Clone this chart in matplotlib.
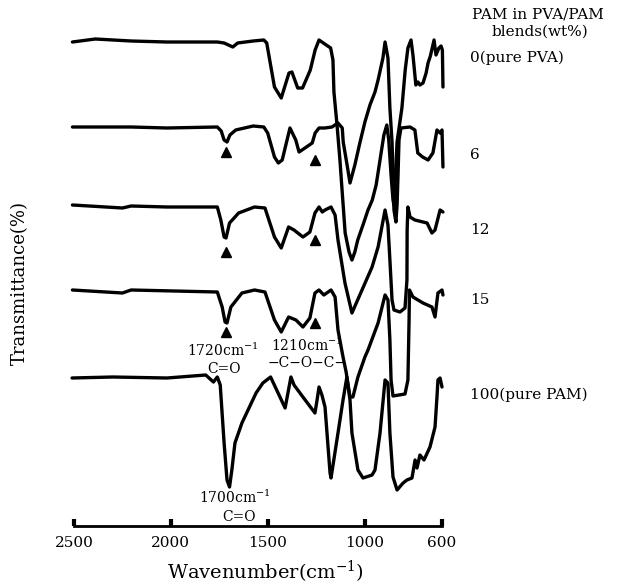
import matplotlib
matplotlib.use("Agg")
import matplotlib.pyplot as plt

plt.rcParams["font.family"] = ["DejaVu Serif"]
plt.rcParams["mathtext.fontset"] = "dejavuserif"

# FTIR spectra, transmittance relative to each curve's baseline (a.u.)
pva_wn = [2508, 2390, 2205, 2020, 1760, 1725, 1680, 1655, 1575, 1520, 1505, 1465, 1430,
          1390, 1375, 1345, 1320, 1280, 1255, 1235, 1205, 1175, 1163, 1158, 1142, 1127,
          1116, 1100, 1080, 1065, 1050, 1035, 1008, 982, 960, 940, 920, 900, 885, 875,
          863, 853, 848, 832, 807, 790, 776, 760, 750, 735, 724, 714, 698, 682, 672, 660,
          641, 631, 616, 605, 598, 595]
pva_t = [0, 3, 1, 0, 0, -1, -5, -1, 1, 2, -1, -45, -56,
         -31, -30, -46, -46, -28, -8, 2, -2, -6, -18, -50, -83, -118,
         -148, -191, -210, -218, -210, -198, -183, -168, -158, -143, -118, -93, -83, -98,
         -133, -158, -163, -100, -66, -28, -6, 2, -13, -43, -40, -43, -41, -31, -21, -14,
         2, -13, -6, -4, -8, -45]

pam6_wn = [2508, 2205, 2020, 1760, 1740, 1725, 1710, 1695, 1665, 1575, 1520, 1500, 1465,
           1445, 1425, 1385, 1355, 1338, 1300, 1270, 1255, 1235, 1205, 1168, 1137, 1115,
           1110, 1090, 1075, 1050, 1023, 998, 972, 946, 930, 905, 894, 879, 869, 858, 853,
           848, 838, 832, 827, 822, 812, 765, 740, 725, 700, 672, 647, 626, 610, 600, 595]
pam6_t = [0, 0, -1, 0, -4, -13, -15, -8, -3, 1, 0, -6, -30,
          -36, -33, -1, -13, -25, -20, -16, -6, -1, -1, 0, 4, -1,
          -15, -38, -56, -38, -15, 5, 22, 35, 47, 69, 85, 69, 19, -15, -48,
          -83, -95, -78, -48, -13, -1, 0, -3, -26, -30, -33, -26, -3, -6, -3, -40]

pam12_wn = [2508, 2250, 2205, 2020, 1760, 1742, 1725, 1715, 1697, 1650, 1568, 1514, 1465,
            1430, 1392, 1364, 1318, 1282, 1256, 1235, 1218, 1204, 1173, 1152, 1137, 1101,
            1065, 1013, 961, 930, 894, 879, 869, 858, 848, 817, 791, 781, 780, 776, 765,
            740, 677, 652, 636, 610, 595]
pam12_t = [2, -1, 1, 0, 0, -13, -30, -31, -16, -6, 0, -1, -30,
           -41, -20, -23, -30, -25, -6, 0, -5, -3, 0, -8, -33, -76,
           -106, -83, -60, -40, -3, -18, -53, -93, -103, -105, -101, -73, -23, 0, -10,
           -13, -16, -26, -23, -3, -5]

pam15_wn = [2508, 2250, 2205, 1760, 1735, 1720, 1710, 1690, 1633, 1568, 1514, 1465, 1430,
            1392, 1354, 1318, 1282, 1256, 1235, 1210, 1173, 1152, 1137, 1111, 1095, 1085,
            1075, 1060, 1034, 998, 982, 930, 894, 879, 869, 863, 853, 791, 776, 770, 768,
            750, 698, 652, 636, 621, 600, 595]
pam15_t = [0, -3, 0, -2, -17, -32, -33, -17, -3, 0, -2, -30, -42,
           -27, -30, -37, -28, -3, 0, -5, 0, -7, -40, -67, -82, -95,
           -107, -107, -87, -67, -60, -33, -5, -10, -50, -90, -106, -104, -90, -30, 0,
           -7, -13, -17, -27, -3, 0, -5]

pam100_wn = [2510, 2300, 2020, 1820, 1780, 1760, 1745, 1725, 1710, 1697, 1685, 1669, 1633,
             1560, 1525, 1485, 1410, 1380, 1364, 1318, 1256, 1245, 1235, 1220, 1204, 1178,
             1173, 1137, 1111, 1091, 1075, 1065, 1034, 1008, 961, 946, 920, 894, 879, 869,
             853, 832, 801, 781, 755, 739, 729, 714, 693, 662, 636, 626, 621, 610, 600]
pam100_t = [0, 1, 0, 3, -4, 1, -7, -65, -102, -109, -92, -65, -45,
            -15, -5, 1, -30, 1, -7, -19, -35, -22, -9, -17, -29, -95,
            -100, -55, -22, 1, -22, -55, -92, -100, -97, -92, -55, -2, -5, -55,
            -99, -112, -105, -102, -100, -82, -90, -77, -82, -69, -49, -19, -2, 0, -9]

labels = ["0(pure PVA)", "6", "12", "15", "100(pure PAM)"]
offsets = [484, 399, 319, 236, 148]
label_y = [58, 155, 230, 300, 395]

# marked bands (arrowheads) under the blend spectra
mark_wn = [1715, 1256]
mark_t = [[-25, -33], [-45, -33], [-42, -33]]

curves = [(pva_wn, pva_t), (pam6_wn, pam6_t), (pam12_wn, pam12_t),
          (pam15_wn, pam15_t), (pam100_wn, pam100_t)]

W, H = 619, 588
fig = plt.figure(figsize=(W / 100, H / 100), dpi=100)
ax = fig.add_axes([74 / W, 62 / H, 368 / W, 526 / H])
ax.set_xlim(2500, 600)
ax.set_ylim(0, 526)

for (wn, tr), off in zip(curves, offsets):
    ax.plot(wn, [off + t for t in tr], color="black", lw=2.4, clip_on=False,
            solid_joinstyle="round", solid_capstyle="round")

for off, ts in zip(offsets[1:4], mark_t):
    ax.plot(mark_wn, [off + t for t in ts], ls="none", marker="^", ms=7,
            color="black", clip_on=False)

for name in ["top", "left", "right"]:
    ax.spines[name].set_visible(False)
ax.spines["bottom"].set_linewidth(2)
ax.set_yticks([])
ax.set_xticks([2500, 2000, 1500, 1000, 600])
ax.tick_params(axis="x", direction="in", length=5, width=3, pad=7, labelsize=11)

# band annotations
ax.text(1732, 526 - 350, "1720cm$^{-1}$", ha="center", va="center", fontsize=10)
ax.text(1725, 526 - 369, "C=O", ha="center", va="center", fontsize=10)
ax.text(1300, 526 - 345, "1210cm$^{-1}$", ha="center", va="center", fontsize=10)
ax.text(1295, 526 - 363, "\u2212C\u2212O\u2212C\u2212", ha="center", va="center", fontsize=10)
ax.text(1670, 526 - 497, "1700cm$^{-1}$", ha="center", va="center", fontsize=10)
ax.text(1650, 526 - 517, "C=O", ha="center", va="center", fontsize=10)

fig.text(538 / W, 1 - 14 / H, "PAM in PVA/PAM", ha="center", va="center", fontsize=11)
fig.text(540 / W, 1 - 32 / H, "blends(wt%)", ha="center", va="center", fontsize=11)
for lab, y in zip(labels, label_y):
    fig.text(470 / W, 1 - y / H, lab, ha="left", va="center", fontsize=11)

fig.text(20 / W, 1 - 283 / H, "Transmittance(%)", rotation=90, ha="center",
         va="center", fontsize=13)
fig.text(265 / W, 1 - 572 / H, "Wavenumber(cm$^{-1}$)", ha="center", va="center",
         fontsize=14)

fig.savefig("out.png", dpi=100)
